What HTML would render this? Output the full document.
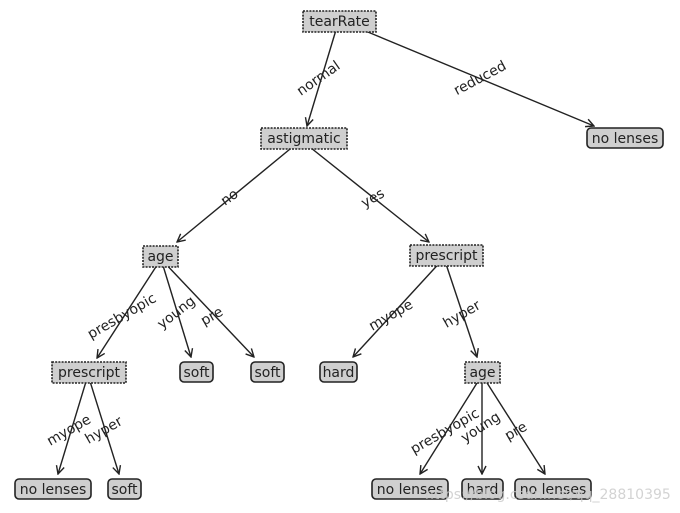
<!DOCTYPE html>
<html><head><meta charset="utf-8"><style>
html,body{margin:0;padding:0;background:#fff}
svg{display:block}
text{font-family:"DejaVu Sans","Liberation Sans",sans-serif;font-size:14px;fill:#222}
.d{fill:#cfcfcf;stroke:#222;stroke-width:1.6;stroke-dasharray:2 1.2}
.l{fill:#cfcfcf;stroke:#222;stroke-width:1.6}
.a{stroke:#222;stroke-width:1.4;fill:none;marker-end:url(#ar)}
</style></head><body>
<svg width="680" height="513" viewBox="0 0 680 513" xmlns="http://www.w3.org/2000/svg">
<defs><marker id="ar" markerWidth="10" markerHeight="10" refX="9" refY="5" orient="auto" markerUnits="userSpaceOnUse"><path d="M1,1 L9,5 L1,9" fill="none" stroke="#222" stroke-width="1.4"/></marker></defs>

<!-- edges -->
<line class="a" x1="339" y1="20" x2="307" y2="126"/>
<line class="a" x1="339" y1="20" x2="594" y2="126"/>
<line class="a" x1="301" y1="140" x2="177" y2="242"/>
<line class="a" x1="301" y1="140" x2="429" y2="242"/>
<line class="a" x1="161" y1="259" x2="97" y2="358"/>
<line class="a" x1="161" y1="259" x2="191" y2="357"/>
<line class="a" x1="161" y1="259" x2="254" y2="357"/>
<line class="a" x1="444" y1="258" x2="353" y2="357"/>
<line class="a" x1="444" y1="258" x2="477" y2="357"/>
<line class="a" x1="88" y1="375" x2="58" y2="474"/>
<line class="a" x1="88" y1="375" x2="119" y2="474"/>
<line class="a" x1="482" y1="375" x2="420" y2="474"/>
<line class="a" x1="482" y1="375" x2="482" y2="474"/>
<line class="a" x1="482" y1="375" x2="545" y2="474"/>

<!-- decision nodes -->
<rect class="d" x="303" y="11" width="73" height="21"/>
<rect class="d" x="261" y="128" width="86" height="21"/>
<rect class="d" x="143" y="246" width="35" height="21"/>
<rect class="d" x="410" y="245" width="73" height="21"/>
<rect class="d" x="52" y="362" width="74" height="21"/>
<rect class="d" x="465" y="362" width="35" height="21"/>

<!-- leaf nodes -->
<rect class="l" x="587" y="128" width="76" height="20" rx="4"/>
<rect class="l" x="180" y="362" width="33" height="20" rx="4"/>
<rect class="l" x="251" y="362" width="33" height="20" rx="4"/>
<rect class="l" x="320" y="362" width="37" height="20" rx="4"/>
<rect class="l" x="15" y="479" width="76" height="20" rx="4"/>
<rect class="l" x="108" y="479" width="33" height="20" rx="4"/>
<rect class="l" x="372" y="479" width="76" height="20" rx="4"/>
<rect class="l" x="462" y="479" width="41" height="20" rx="4"/>
<rect class="l" x="515" y="479" width="76" height="20" rx="4"/>

<!-- node labels -->
<g text-anchor="middle">
<text x="339.5" y="26">tearRate</text>
<text x="304" y="143">astigmatic</text>
<text x="160.5" y="261">age</text>
<text x="446.5" y="260">prescript</text>
<text x="89" y="377">prescript</text>
<text x="482.5" y="377">age</text>
<text x="625" y="143">no lenses</text>
<text x="196.5" y="377">soft</text>
<text x="267.5" y="377">soft</text>
<text x="338.5" y="377">hard</text>
<text x="53" y="494">no lenses</text>
<text x="124.5" y="494">soft</text>
<text x="410" y="494">no lenses</text>
<text x="482.5" y="494">hard</text>
<text x="553" y="494">no lenses</text>

<!-- edge labels -->
<text transform="translate(321,82) rotate(-35)">normal</text>
<text transform="translate(482,82) rotate(-28)">reduced</text>
<text transform="translate(232,201) rotate(-35)">no</text>
<text transform="translate(375,202) rotate(-30)">yes</text>
<text transform="translate(124,320) rotate(-30)">presbyopic</text>
<text transform="translate(179,316) rotate(-38)">young</text>
<text transform="translate(214,320) rotate(-30)">pre</text>
<text transform="translate(393,319) rotate(-30)">myope</text>
<text transform="translate(464,318) rotate(-30)">hyper</text>
<text transform="translate(71,434) rotate(-30)">myope</text>
<text transform="translate(106,434) rotate(-30)">hyper</text>
<text transform="translate(447,435) rotate(-30)">presbyopic</text>
<text transform="translate(483,431) rotate(-33)">young</text>
<text transform="translate(518,435) rotate(-30)">pre</text>
</g>

<text x="425" y="499" style="fill:#c8c8c8;fill-opacity:0.8;font-size:14px">https://blog.csdn.net/qq_28810395</text>
</svg>
</body></html>
